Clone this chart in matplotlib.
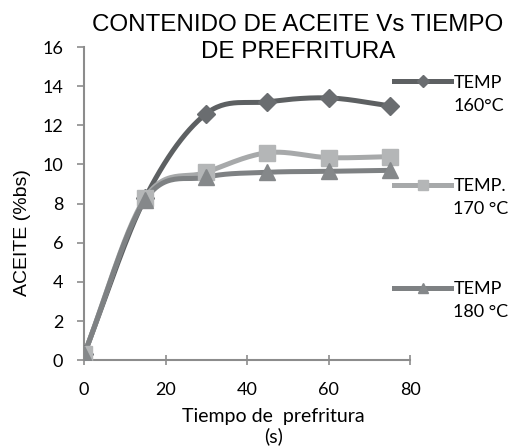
import numpy as np
import matplotlib.pyplot as plt
from matplotlib.lines import Line2D

# data
tiempo = [0, 15, 30, 45, 60, 75]
temp_160 = [0.3, 8.3, 12.6, 13.2, 13.4, 13.0]
temp_170 = [0.3, 8.3, 9.6, 10.6, 10.35, 10.4]
temp_180 = [0.3, 8.2, 9.35, 9.6, 9.65, 9.7]
labels = [('TEMP', '160°C'), ('TEMP.', '170 °C'), ('TEMP', '180 °C')]


def smooth(x, y, n=30):
    # catmull-rom curve through the points (like excel "smoothed line")
    x = np.asarray(x, float)
    y = np.asarray(y, float)
    px = np.concatenate([[2 * x[0] - x[1]], x, [2 * x[-1] - x[-2]]])
    py = np.concatenate([[2 * y[0] - y[1]], y, [2 * y[-1] - y[-2]]])
    xs, ys = [], []
    t = np.linspace(0, 1, n)
    for i in range(1, len(px) - 2):
        for p, out in ((px, xs), (py, ys)):
            p0, p1, p2, p3 = p[i - 1], p[i], p[i + 1], p[i + 2]
            out.extend(0.5 * ((2 * p1) + (-p0 + p2) * t
                              + (2 * p0 - 5 * p1 + 4 * p2 - p3) * t ** 2
                              + (-p0 + 3 * p1 - 3 * p2 + p3) * t ** 3))
    return xs, ys


fig = plt.figure(figsize=(5.1, 4.48), dpi=100)
ax = fig.add_axes([0.165, 0.196, 0.639, 0.699])

series = [
    (temp_160, '#5d6062', 'D', 9, '#6a6d70'),
    (temp_170, '#a7a9aa', 's', 11, '#b4b6b7'),
    (temp_180, '#7e8183', '^', 11, '#85888a'),
]

handles = []
for vals, col, mk, ms, mcol in series:
    xs, ys = smooth(tiempo, vals)
    ax.plot(xs, ys, color=col, lw=3.6, solid_capstyle='round', zorder=2)
    ax.plot(tiempo, vals, linestyle='none', marker=mk, ms=ms,
            color=mcol, markeredgecolor=mcol, zorder=3)
    handles.append(Line2D([], [], color=col, lw=3.6, marker=mk,
                          ms=ms * 0.7, markerfacecolor=mcol,
                          markeredgecolor=mcol))

ax.set_xlim(0, 80)
ax.set_ylim(0, 16)
ax.set_xticks([0, 20, 40, 60, 80])
ax.set_yticks(range(0, 17, 2))
for s in ['top', 'right']:
    ax.spines[s].set_visible(False)
for s in ['left', 'bottom']:
    ax.spines[s].set_color('#8c8c8c')
    ax.spines[s].set_linewidth(1.5)
ax.tick_params(axis='y', direction='out', length=5, width=1.2, color='#8c8c8c',
               labelsize=13, pad=10)
ax.tick_params(axis='x', direction='inout', length=7, width=1.2, color='#8c8c8c',
               labelsize=13, pad=12)
for t in ax.get_xticklabels() + ax.get_yticklabels():
    t.set_fontfamily('Lato')

fig.text(0.584, 0.914, 'CONTENIDO DE ACEITE Vs TIEMPO\nDE PREFRITURA',
         ha='center', va='center', fontsize=17.4, family='Liberation Sans',
         linespacing=1.3)
fig.text(0.044, 0.48, 'ACEITE (%bs)', rotation=90, ha='center', va='center',
         fontsize=14, family='Liberation Sans')
fig.text(0.536, 0.047, 'Tiempo de  prefritura\n(s)', ha='center', va='center',
         fontsize=14, family='Lato', linespacing=1.15)

leg = fig.legend(handles, [a for a, b in labels], loc='upper left',
                 bbox_to_anchor=(0.772, 0.833), frameon=False,
                 handlelength=3.2, handletextpad=0.1, labelspacing=4.83,
                 borderpad=0, borderaxespad=0,
                 prop={'family': 'Lato', 'size': 13})
for t, (a, b) in zip(leg.get_texts(), labels):
    fig.add_artist(plt.Annotation(b, xy=(0, 0), xycoords=t,
                                  xytext=(0, -5), textcoords='offset points',
                                  va='top', ha='left', fontsize=13,
                                  family='Lato', zorder=10))

fig.savefig('out.png', dpi=100)
